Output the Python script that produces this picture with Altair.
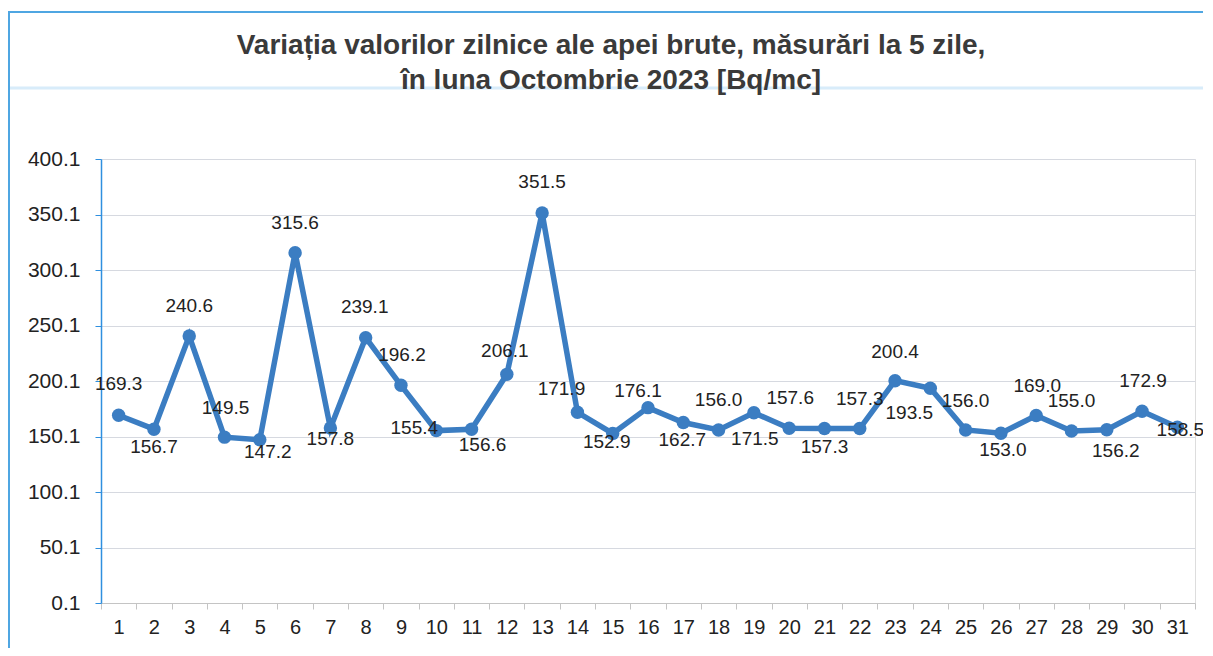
import altair as alt
import pandas as pd

# ---- data ----
days = [str(d) for d in range(1, 32)]
values = [169.3, 156.7, 240.6, 149.5, 147.2, 315.6, 157.8, 239.1, 196.2, 155.4,
          156.6, 206.1, 351.5, 171.9, 152.9, 176.1, 162.7, 156.0, 171.5, 157.6,
          157.3, 157.3, 200.4, 193.5, 156.0, 153.0, 169.0, 155.0, 156.2, 172.9,
          158.5]
y_ticks = [0.1, 50.1, 100.1, 150.1, 200.1, 250.1, 300.1, 350.1, 400.1]
title_lines = ["Variația valorilor zilnice ale apei brute, măsurări la 5 zile,",
               "în luna Octombrie 2023 [Bq/mc]"]

# ---- layout: data-label pixel offsets (dx, dy), one per day ----
label_offsets = [(0, -31), (0, 18), (0, -30), (1, -29), (8, 12), (0, -30), (0, 11),
                 (-1, -31), (1, -30), (-22, -3), (11, 16), (-2, -23), (0, -31),
                 (-16, -23), (-6, 9), (-10, -17), (-1, 17), (0, -30), (1, 26),
                 (1, -30), (0, 18), (0, -30), (0, -29), (-21, 25), (0, -29),
                 (2, 17), (1, -30), (0, -30), (9, 21), (1, -30), (3, 3)]

df = pd.DataFrame({"day": days, "value": values,
                   "label": [f"{v:.1f}" for v in values]})

W, H = 1094, 444
FONT = "Liberation Sans"
LINE_COLOR = "#3b7dc2"

x_enc = alt.X("day:N", sort=days,
              scale=alt.Scale(type="band", paddingInner=0, paddingOuter=0),
              axis=alt.Axis(title=None, labelAngle=0, labelFontSize=20, labelFont=FONT,
                            labelColor="#222222", labelPadding=8, tickBand="extent",
                            tickSize=6, tickColor="#c4c4c4", domainColor="#c4c4c4",
                            grid=False))
y_enc = alt.Y("value:Q",
              scale=alt.Scale(domain=[0.1, 400.1], nice=False, zero=False),
              axis=alt.Axis(title=None, values=y_ticks, format=".1f", labelFontSize=21,
                            labelFont=FONT, labelColor="#222222", labelPadding=15,
                            tickSize=6, tickColor="#2f8fdf", domainColor="#2f8fdf",
                            domainWidth=1.5, gridColor="#d6d9e0", gridWidth=1))

base = alt.Chart(df)

line = base.mark_line(color=LINE_COLOR, strokeWidth=5.5).encode(x=x_enc, y=y_enc)
pts = base.mark_circle(color=LINE_COLOR, size=180, opacity=1).encode(x=x_enc, y=y_enc)

label_layers = []
for d, (dx, dy) in zip(days, label_offsets):
    label_layers.append(
        base.transform_filter(alt.datum.day == d)
        .mark_text(font=FONT, fontSize=19, color="#222222", dx=dx, dy=dy,
                   baseline="middle", align="center")
        .encode(x=alt.X("day:N", sort=days), y=alt.Y("value:Q"), text="label:N")
    )

# title as a text mark (two lines)
title_df = pd.DataFrame({"t": ["\n".join(title_lines)]})
title = alt.Chart(title_df).mark_text(
    font=FONT, fontSize=28, fontWeight="bold", color="#3a3a3a", lineBreak="\n",
    lineHeight=35, align="center", baseline="middle", clip=False
).encode(text="t:N", x=alt.value(W / 2 - 37), y=alt.value(-113))

# chart-area frame and faint scan line (decorations)
frame = alt.Chart(pd.DataFrame({"a": [0]})).mark_rect(
    filled=False, stroke="#4fa6e2", strokeWidth=2, clip=False
).encode(x=alt.value(-92), x2=alt.value(1150), y=alt.value(-147), y2=alt.value(700))

scanline = alt.Chart(pd.DataFrame({"a": [0]})).mark_rule(
    color="#d8ecfa", strokeWidth=3, clip=False
).encode(x=alt.value(-101), x2=alt.value(1110), y=alt.value(-71))

chart = alt.layer(scanline, frame, title, line, pts, *label_layers).properties(
    width=W, height=H,
    autosize=alt.AutoSizeParams(type="none"),
    padding={"left": 93, "top": 151, "right": 8, "bottom": 45},
).configure_view(stroke=None).configure(background="white")

chart.save("out.html", embed_options={"renderer": "svg", "actions": False})
